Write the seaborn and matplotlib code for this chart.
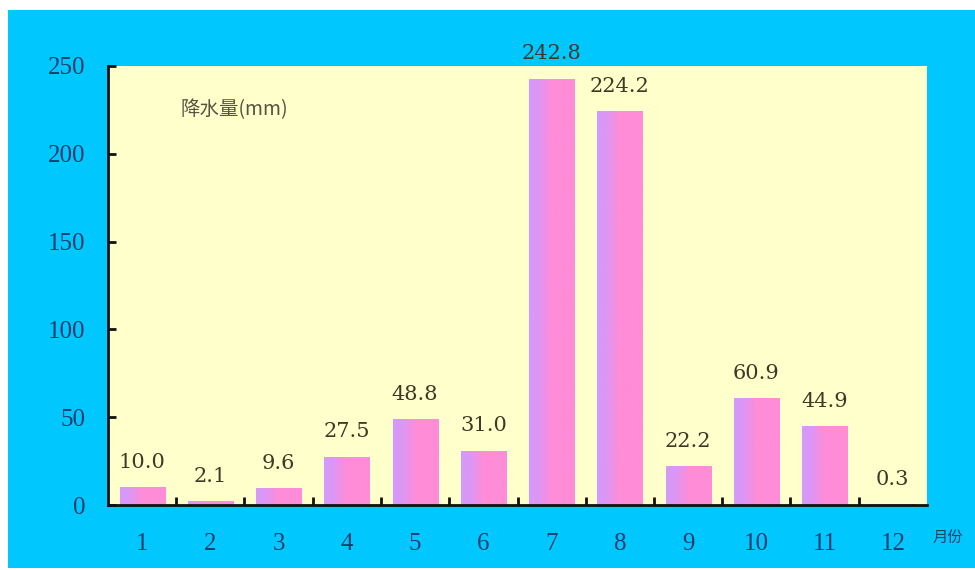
import numpy as np
import pandas as pd
import matplotlib
matplotlib.use("Agg")
import matplotlib.pyplot as plt
from matplotlib.patches import Rectangle
import seaborn as sns

# Monthly precipitation (mm)
months = ["1", "2", "3", "4", "5", "6", "7", "8", "9", "10", "11", "12"]
precip = [10.0, 2.1, 9.6, 27.5, 48.8, 31.0, 242.8, 224.2, 22.2, 60.9, 44.9, 0.3]
y_ticks = [0, 50, 100, 150, 200, 250]

df = pd.DataFrame({"month": months, "precip": precip})

sns.set_theme(style="white")
plt.rcParams["font.family"] = ["Liberation Serif", "Noto Sans CJK SC", "DejaVu Sans"]

BLUE = "#00C8FF"
PANEL = "#FFFFCC"
TICK_COLOR = "#1B3C6E"
LABEL_COLOR = "#3C3A26"

fig = plt.figure(figsize=(9.75, 5.7), dpi=100)
fig.patch.set_facecolor("white")
fig.add_artist(Rectangle((8 / 975, 2 / 570), 1 - 8 / 975, 1 - 12 / 570,
                         transform=fig.transFigure, facecolor=BLUE,
                         edgecolor="none", zorder=0))

ax = fig.add_axes([108 / 975, 65 / 570, 819 / 975, 439 / 570])
ax.set_facecolor(PANEL)

sns.barplot(data=df, x="month", y="precip", color="#EE90E8", width=0.66,
            saturation=1, ax=ax, zorder=2)

ax.set_ylim(0, 250)
ax.set_xlim(-0.5, len(months) - 0.5)
ax.set_yticks(y_ticks)

# Violet-to-pink horizontal gradient on every bar
grad = np.linspace(0, 1, 64)
grad = np.clip((grad - 0.15) / 0.35, 0, 1)[None, :]
cmap = matplotlib.colors.LinearSegmentedColormap.from_list(
    "bar", ["#D898F8", "#FF8CD8"])
for p in ax.patches:
    x0, y0 = p.get_x(), p.get_y()
    w, h = p.get_width(), p.get_height()
    im = ax.imshow(grad, cmap=cmap, aspect="auto",
                   extent=(x0, x0 + w, y0, y0 + h), zorder=3, vmin=0, vmax=1)
    im.set_clip_path(p)

# Value labels above bars
for i, v in enumerate(precip):
    ax.annotate(f"{v:.1f}", (i, v), xytext=(0, 11), textcoords="offset points",
                ha="center", va="bottom", fontsize=15, color=LABEL_COLOR,
                family=["DejaVu Serif"], annotation_clip=False, zorder=5)

ax.set_xlabel("")
ax.set_ylabel("")

for side in ["top", "right"]:
    ax.spines[side].set_visible(False)
for side in ["left", "bottom"]:
    ax.spines[side].set_visible(True)
    ax.spines[side].set_color("#111111")
    ax.spines[side].set_linewidth(2)
    ax.spines[side].set_zorder(6)

# Minor ticks mark the month boundaries along the x axis
ax.set_xticks(np.arange(0.5, len(months) - 0.5, 1), minor=True)
ax.tick_params(axis="x", which="major", length=0, pad=20,
               labelsize=18, labelcolor=TICK_COLOR)
ax.tick_params(axis="x", which="minor", direction="in", length=6, width=2,
               color="#111111", bottom=True)
ax.tick_params(axis="y", which="major", direction="in", length=6, width=2,
               color="#111111", left=True, pad=16,
               labelsize=18, labelcolor=TICK_COLOR)
ax.set_xticks(range(len(months)))
ax.set_xticklabels(months)

ax.text(0.088, 0.90, "降水量(mm)", transform=ax.transAxes, fontsize=14,
        color="#555544", family=["Noto Sans CJK SC"], va="center", ha="left")
ax.text(1.007, -0.075, "月份", transform=ax.transAxes, fontsize=11,
        color=TICK_COLOR, family=["Noto Sans CJK SC"], va="center", ha="left")

fig.savefig("out.png", dpi=100, facecolor=fig.get_facecolor())
